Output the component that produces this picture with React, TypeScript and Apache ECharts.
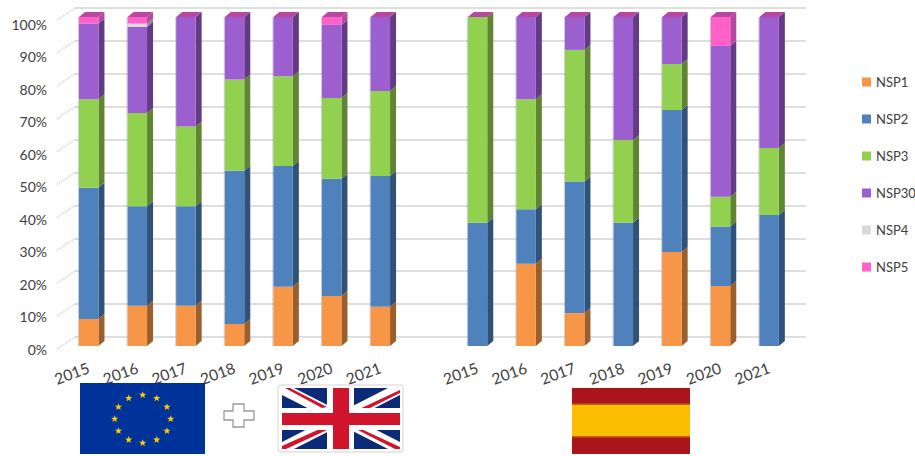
import React, { useEffect, useRef } from "react";
import * as echarts from "echarts";

const years = ["2015", "2016", "2017", "2018", "2019", "2020", "2021"];
const categories = [...years, "", ...years];
const yTicks = [0, 10, 20, 30, 40, 50, 60, 70, 80, 90, 100];
const seriesNames = ["NSP1", "NSP2", "NSP3", "NSP30", "NSP4", "NSP5"];

const nsp1 = [8.2, 12.2, 12.2, 6.7, 18, 15.2, 11.9, 0, 0, 25, 10, 0, 28.6, 18.2, 0];
const nsp2 = [39.9, 30.3, 30.3, 46.6, 36.7, 35.6, 39.8, 0, 37.5, 16.6, 40, 37.5, 43.1, 18.1, 39.8];
const nsp3 = [26.9, 28.3, 24.2, 27.7, 27.3, 24.6, 25.8, 0, 62.5, 33.4, 40, 25.1, 14, 9.1, 20.4];
const nsp30 = [23, 26.2, 33.3, 19, 18, 22.2, 22.5, 0, 0, 25, 10, 37.4, 14.3, 45.8, 39.8];
const nsp4 = [0, 1, 0, 0, 0, 0, 0, 0, 0, 0, 0, 0, 0, 0, 0];
const nsp5 = [2, 2, 0, 0, 0, 2.4, 0, 0, 0, 0, 0, 0, 0, 8.8, 0];
const values = [nsp1, nsp2, nsp3, nsp30, nsp4, nsp5];

const frontColors = ["#f79646", "#4f81bd", "#92d050", "#9b5fd0", "#d9d9d9", "#ff61c9"];
const sideColors = ["#9c5f2c", "#2f5278", "#5f8533", "#653a85", "#8c8c8c", "#b8479f"];
const TEXT = "#404040";
const FONT = "Lato";
const BAR_W = 19.5;
const DX = 6;
const DY = 5;

function star(cx: number, cy: number, r: number) {
  const pts: number[][] = [];
  for (let i = 0; i < 10; i++) {
    const a = -Math.PI / 2 + (i * Math.PI) / 5;
    const q = i % 2 === 0 ? r : r * 0.42;
    pts.push([cx + q * Math.cos(a), cy + q * Math.sin(a)]);
  }
  return pts;
}

function euStars() {
  const out: any[] = [];
  for (let i = 0; i < 12; i++) {
    const a = (i * Math.PI) / 6;
    out.push({
      type: "polygon",
      z: 30,
      shape: { points: star(142.7 + 28 * Math.sin(a), 419 - 24 * Math.cos(a), 3.8) },
      style: { fill: "#ffcc00" },
    });
  }
  return out;
}

const rect = (x: number, y: number, width: number, height: number, fill: string, extra: any = {}) => ({
  type: "rect",
  z: 30,
  shape: { x, y, width, height, ...(extra.shape || {}) },
  style: { fill, ...(extra.style || {}) },
});
const poly = (points: number[][], fill: string, stroke?: string, lineWidth?: number) => ({
  type: "polygon",
  z: 30,
  shape: { points },
  style: { fill, stroke, lineWidth },
});

const flags: any[] = [
  rect(80, 383, 125, 71, "#003399"),
  ...euStars(),
  poly(
    [
      [233, 404], [244, 404], [244, 411], [254, 411], [254, 420], [244, 420],
      [244, 427], [233, 427], [233, 420], [224, 420], [224, 411], [233, 411],
    ],
    "#ffffff",
    "#9a9a9a",
    1.3
  ),
  rect(278, 385, 125, 67, "#ffffff", {
    shape: { r: 3 },
    style: { stroke: "#e2e2e2", lineWidth: 1.5 },
  }),
  rect(282, 388, 118, 61, "#0b2a78"),
  poly([[282, 388], [294, 388], [400, 442], [400, 449], [388, 449], [282, 395]], "#ffffff"),
  poly([[400, 388], [400, 395], [294, 449], [282, 449], [282, 442], [388, 388]], "#ffffff"),
  poly([[285, 388], [290, 388], [327, 407], [322, 408]], "#cf142b"),
  poly([[400, 390], [400, 393], [360, 413], [355, 411]], "#cf142b"),
  poly([[282, 446], [282, 449], [286, 449], [327, 430], [322, 428]], "#cf142b"),
  poly([[354, 428], [359, 428], [400, 447], [400, 449], [395, 449]], "#cf142b"),
  rect(327, 388, 27, 61, "#ffffff"),
  rect(282, 408, 118, 22, "#ffffff"),
  rect(333, 388, 16, 61, "#cf142b"),
  rect(282, 413, 118, 12, "#cf142b"),
  rect(572, 388, 118, 66, "#aa151b"),
  rect(572, 403.5, 118, 34, "#c8600e"),
  rect(572, 405, 118, 31, "#fabd00"),
];

function barRender(seriesIndex: number) {
  return (params: any, api: any) => {
    const cat = api.value(0);
    const start = api.value(1);
    const end = api.value(2);
    const [cx, y0] = api.coord([cat, start]);
    const [, y1] = api.coord([cat, end]);
    const xl = cx - BAR_W / 2;
    const xr = cx + BAR_W / 2;
    const children: any[] = [];
    if (end > start) {
      children.push(
        {
          type: "polygon",
          shape: { points: [[xr, y1], [xr + DX, y1 - DY], [xr + DX, y0 - DY], [xr, y0]] },
          style: { fill: sideColors[seriesIndex] },
        },
        {
          type: "rect",
          shape: { x: xl, y: y1, width: BAR_W, height: y0 - y1 },
          style: { fill: frontColors[seriesIndex] },
        },
        {
          type: "line",
          shape: { x1: xl - 0.5, y1, x2: xl - 0.5, y2: y0 },
          style: { stroke: "rgba(150,150,165,0.45)", lineWidth: 1 },
        }
      );
    }
    if (seriesIndex === 5) {
      children.push({
        type: "polygon",
        shape: { points: [[xl, y1], [xr, y1], [xr + DX, y1 - DY], [xl + DX, y1 - DY]] },
        style: { fill: sideColors[5] },
      });
    }
    return { type: "group", children };
  };
}

function buildSeries() {
  const running = categories.map(() => 0);
  const bars = values.map((vals, s) => {
    const data: number[][] = [];
    vals.forEach((v, i) => {
      if (categories[i] === "") return;
      data.push([i, running[i], running[i] + v]);
      running[i] += v;
    });
    return {
      type: "custom",
      name: seriesNames[s],
      coordinateSystem: "cartesian2d",
      xAxisIndex: 0,
      yAxisIndex: 0,
      clip: false,
      z: 10 + s,
      itemStyle: { color: frontColors[s] },
      encode: { x: 0, y: [1, 2] },
      data,
      renderItem: barRender(s),
    };
  });
  const wall = {
    type: "custom",
    name: "wall",
    coordinateSystem: "cartesian2d",
    xAxisIndex: 1,
    yAxisIndex: 1,
    clip: false,
    silent: true,
    z: 3,
    data: yTicks.map((t) => [0, t]),
    renderItem: (params: any, api: any) => {
      const [x, y] = api.coord([api.value(0), api.value(1)]);
      return {
        type: "line",
        shape: { x1: x - 18, y1: y + 12, x2: x, y2: y },
        style: { stroke: "#dedede", lineWidth: 2, lineDash: [1.5, 1] },
      };
    },
  };
  return [wall, ...bars];
}

export default function App() {
  const ref = useRef<HTMLDivElement>(null);
  useEffect(() => {
    document.body.style.margin = "0";
    const chart = echarts.init(ref.current!, null, { renderer: "svg" });
    chart.setOption({
      animation: false,
      backgroundColor: "#ffffff",
      textStyle: { fontFamily: FONT },
      legend: {
        show: true,
        orient: "vertical",
        left: 857,
        top: 70.5,
        itemWidth: 9,
        itemHeight: 9,
        itemGap: 24,
        selectedMode: false,
        icon: "rect",
        data: seriesNames,
        textStyle: { color: TEXT, fontFamily: FONT, fontSize: 13 },
      },
      grid: [
        { left: 64.4, top: 17, width: 729, height: 329 },
        { left: 75, top: 8, width: 731, height: 329 },
        { left: 50, top: 24, width: 100, height: 325 },
      ],
      xAxis: [
        {
          type: "category",
          gridIndex: 0,
          data: categories,
          axisLine: { show: false },
          axisTick: { show: false },
          axisLabel: {
            interval: 0,
            rotate: 20,
            margin: 21,
            color: TEXT,
            fontFamily: FONT,
            fontSize: 15.5,
          },
        },
        { type: "value", gridIndex: 1, min: 0, max: 1, show: false },
        { type: "value", gridIndex: 2, min: 0, max: 1, show: false },
      ],
      yAxis: [
        { type: "value", gridIndex: 0, min: 0, max: 100, interval: 10, show: false },
        {
          type: "value",
          gridIndex: 1,
          min: 0,
          max: 100,
          interval: 10,
          axisLine: { show: false },
          axisTick: { show: false },
          axisLabel: { show: false },
          splitLine: { show: true, lineStyle: { color: "#dedede", width: 2 } },
        },
        {
          type: "value",
          gridIndex: 2,
          min: 0,
          max: 100,
          interval: 10,
          axisLine: { show: false },
          axisTick: { show: false },
          splitLine: { show: false },
          axisLabel: {
            margin: 3,
            color: TEXT,
            fontFamily: FONT,
            fontSize: 14,
            formatter: "{value}%",
          },
        },
      ],
      series: buildSeries(),
      graphic: flags,
    });
    return () => chart.dispose();
  }, []);
  return <div ref={ref} style={{ width: 915, height: 456 }} />;
}
